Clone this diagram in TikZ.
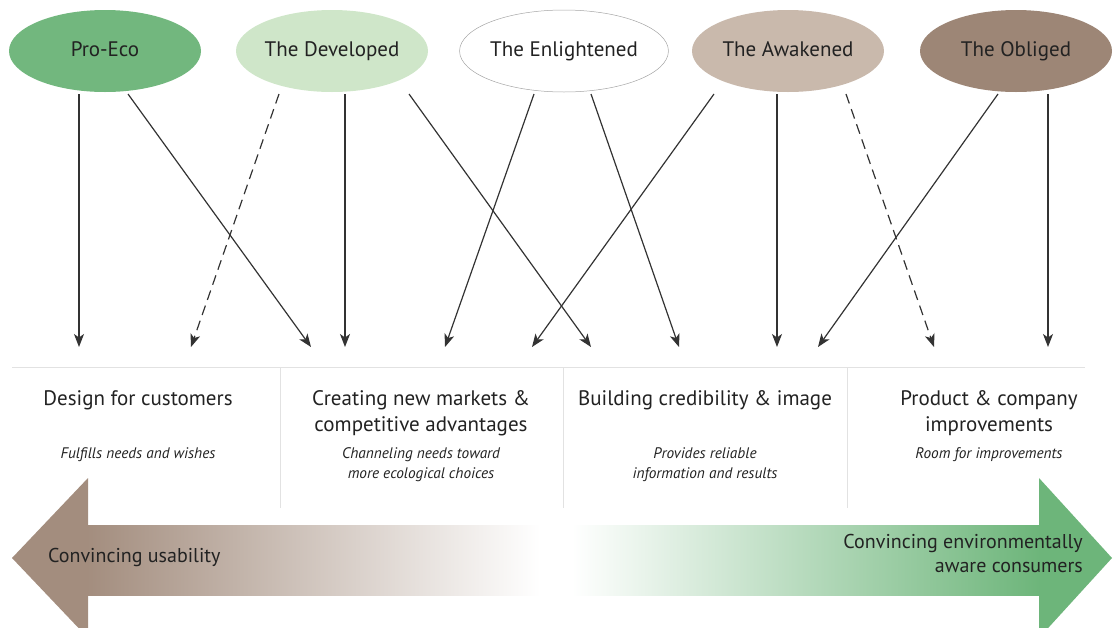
\documentclass[tikz,border=0pt]{standalone}
\usepackage{fontspec}
\setmainfont{PT Sans}
\usetikzlibrary{arrows.meta,shapes.geometric}

\definecolor{ecogreen}{HTML}{72B77E}
\definecolor{devgreen}{HTML}{CFE6C9}
\definecolor{awakebrown}{HTML}{C9B9AC}
\definecolor{obligebrown}{HTML}{9D8676}
\definecolor{arrowbrown}{HTML}{A38D7E}
\definecolor{arrowgreen}{HTML}{6DB57A}
\definecolor{inkgray}{HTML}{333333}
\definecolor{rulegray}{HTML}{E2E2E2}
\definecolor{textdark}{HTML}{222222}

\tikzset{
  segment/.style={ellipse, minimum width=192pt, minimum height=82pt, inner sep=0pt,
    text height=14pt, text depth=4pt,
    text=textdark, font=\fontsize{21}{25}\selectfont},
  link/.style={draw=inkgray, line width=1.2pt,
    -{Stealth[length=13pt,width=10pt,inset=3.5pt]}},
  dashlink/.style={link, dash pattern=on 10pt off 6pt},
  title/.style={anchor=base, inner sep=0pt, text=textdark, font=\fontsize{21}{25}\selectfont},
  note/.style={anchor=base, inner sep=0pt, text=textdark, font=\fontsize{15.3}{19}\selectfont\itshape},
  divider/.style={draw=rulegray, line width=0.8pt},
  banner/.style={inner sep=0pt, text=textdark, font=\fontsize{20}{24}\selectfont}
}

\begin{document}
\begin{tikzpicture}[x=1pt,y=-1pt]
\useasboundingbox (0,0) rectangle (1113,627);

% consumer segments
\node[segment, fill=ecogreen] (proeco) at (105,51) {Pro-Eco};
\node[segment, fill=devgreen] (developed) at (332,51) {The Developed};
\node[segment, draw=gray!70, line width=0.5pt, fill=white] (enlightened) at (564,51) {The Enlightened};
\node[segment, fill=awakebrown] (awakened) at (788,51) {The Awakened};
\node[segment, fill=obligebrown] (obliged) at (1016,51) {The Obliged};

% connector start points under each segment
\coordinate (pe1) at (79,94);
\coordinate (pe2) at (128,94);
\coordinate (dv1) at (279,94);
\coordinate (dv2) at (345,94);
\coordinate (dv3) at (409,94);
\coordinate (en1) at (534,94);
\coordinate (en2) at (591,94);
\coordinate (aw1) at (714,94);
\coordinate (aw2) at (777,94);
\coordinate (aw3) at (846,94);
\coordinate (ob1) at (998,94);
\coordinate (ob2) at (1048,94);

% connector end points above the strategy columns
\coordinate (t1) at (79,347);
\coordinate (t2) at (191,347);
\coordinate (t3) at (311,347);
\coordinate (t4) at (345,347);
\coordinate (t5) at (445,347);
\coordinate (t6) at (532,347);
\coordinate (t7) at (591,347);
\coordinate (t8) at (679,347);
\coordinate (t9) at (777,347);
\coordinate (t10) at (818,347);
\coordinate (t11) at (934,347);
\coordinate (t12) at (1048,347);

\draw[link] (pe1) -- (t1);
\draw[link] (pe2) -- (t3);
\draw[dashlink] (dv1) -- (t2);
\draw[link] (dv2) -- (t4);
\draw[link] (dv3) -- (t7);
\draw[link] (en1) -- (t5);
\draw[link] (en2) -- (t8);
\draw[link] (aw1) -- (t6);
\draw[link] (aw2) -- (t9);
\draw[dashlink] (aw3) -- (t11);
\draw[link] (ob1) -- (t10);
\draw[link] (ob2) -- (t12);

% column frame
\coordinate (hl) at (12,367);
\coordinate (hr) at (1085,367);
\draw[divider] (hl) -- (hr);
\foreach \x/\n in {280/a,563/b,847/c}{
  \coordinate (d\n top) at (\x,367);
  \coordinate (d\n bot) at (\x,508);
  \draw[divider] (d\n top) -- (d\n bot);
}

% column titles and notes
\node[title] (c1a) at (138,405) {Design for customers};
\node[note]  (c1n) at (138,458) {Fulfills needs and wishes};

\node[title] (c2a) at (421,405) {Creating new markets \&};
\node[title] (c2b) at (421,431) {competitive advantages};
\node[note]  (c2n) at (421,458) {Channeling needs toward};
\node[note]  (c2m) at (421,478) {more ecological choices};

\node[title] (c3a) at (705,405) {Building credibility \& image};
\node[note]  (c3n) at (705,458) {Provides reliable};
\node[note]  (c3m) at (705,478) {information and results};

\node[title] (c4a) at (989,405) {Product \& company};
\node[title] (c4b) at (989,431) {improvements};
\node[note]  (c4n) at (989,458) {Room for improvements};

% direction arrows at the bottom
\begin{scope}
\clip (0,0) rectangle (1113,627);
\shade[left color=arrowbrown, right color=white] (87,525) rectangle (540,595);
\fill[arrowbrown] (12,558) -- (88,478) -- (88,638) -- cycle;
\shade[left color=white, right color=arrowgreen] (572,525) rectangle (1040,595);
\fill[arrowgreen] (1112,558) -- (1039,478) -- (1039,638) -- cycle;
\end{scope}

\node[banner, anchor=west] (usab) at (48,557) {Convincing usability};
\node[banner, anchor=east, align=right] (aware) at (1083,553)
  {Convincing environmentally\\aware consumers};
\end{tikzpicture}
\end{document}
